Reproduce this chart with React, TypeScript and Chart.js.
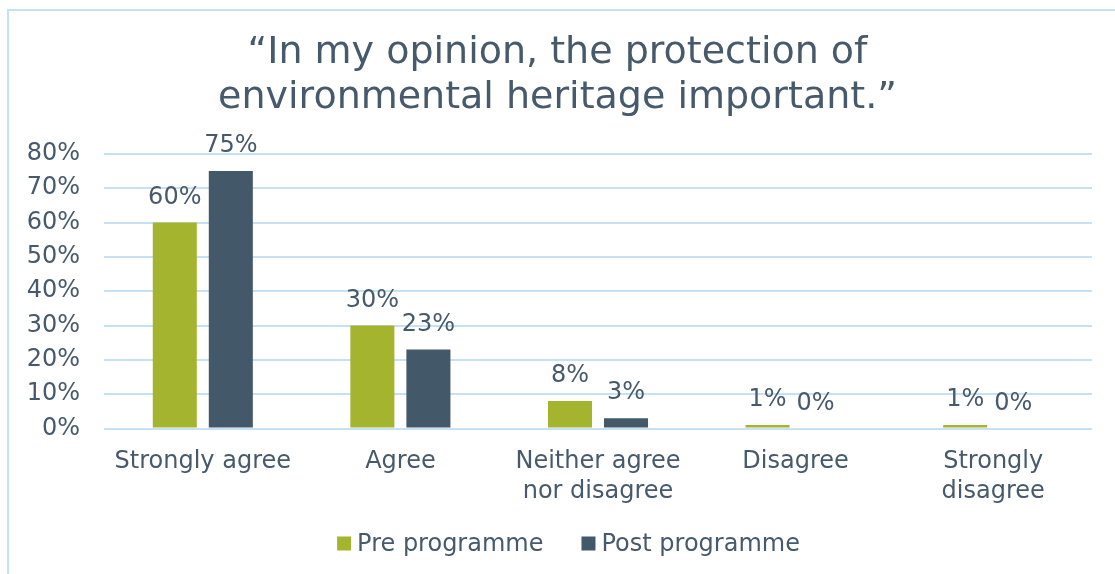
import React, { useEffect, useRef } from "react";
import { Chart, registerables } from "chart.js";

Chart.register(...registerables);

const titleLines = ["\u201CIn my opinion, the protection of", "environmental heritage important.\u201D"];
const categories: (string | string[])[] = [
  "Strongly agree",
  "Agree",
  ["Neither agree", "nor disagree"],
  "Disagree",
  ["Strongly", "disagree"],
];
const preProgramme = [60, 30, 8, 1, 1];
const postProgramme = [75, 23, 3, 0, 0];
const seriesNames = ["Pre programme", "Post programme"];
const yTicks = [0, 10, 20, 30, 40, 50, 60, 70, 80];

const TEXT = "#465A6C";
const GREEN = "#A5B42E";
const DARK = "#435868";
const GRID = "#C6E0F4";
const FONT = "'DejaVu Sans', Verdana, sans-serif";
const FS = 24;

const valueLabels = {
  id: "valueLabels",
  afterDatasetsDraw(chart: any) {
    const ctx = chart.ctx;
    ctx.save();
    ctx.font = `${FS}px ${FONT}`;
    ctx.fillStyle = TEXT;
    ctx.textAlign = "center";
    ctx.textBaseline = "middle";
    chart.data.datasets.forEach((ds: any, di: number) => {
      const meta = chart.getDatasetMeta(di);
      meta.data.forEach((bar: any, i: number) => {
        const v = ds.data[i];
        const shift = v === 0 ? -8 : 0;
        ctx.fillText(`${v}%`, bar.x + shift, bar.y - 25);
      });
    });
    ctx.restore();
  },
};

const customLegend = {
  id: "customLegend",
  afterDraw(chart: any) {
    const ctx = chart.ctx;
    ctx.save();
    ctx.font = `${FS}px ${FONT}`;
    ctx.textBaseline = "middle";
    ctx.textAlign = "left";
    const box = 14;
    const gapText = 6;
    const gapItem = 38;
    const items = chart.data.datasets.map((ds: any) => ({
      label: ds.label,
      color: ds.backgroundColor,
      w: ctx.measureText(ds.label).width,
    }));
    let total = 0;
    items.forEach((it: any, i: number) => {
      total += box + gapText + it.w + (i > 0 ? gapItem : 0);
    });
    let x = chart.width / 2 + 11 - total / 2;
    const y = chart.chartArea.bottom + 115;
    items.forEach((it: any) => {
      ctx.fillStyle = it.color;
      ctx.fillRect(x, y - box / 2, box, box);
      ctx.fillStyle = TEXT;
      ctx.fillText(it.label, x + box + gapText, y + 1);
      x += box + gapText + it.w + gapItem;
    });
    ctx.restore();
  },
};

export default function App() {
  const ref = useRef<HTMLCanvasElement | null>(null);

  useEffect(() => {
    if (!ref.current) return;
    const chart = new Chart(ref.current, {
      type: "bar",
      data: {
        labels: categories,
        datasets: [
          {
            label: seriesNames[0],
            data: preProgramme,
            backgroundColor: GREEN,
            categoryPercentage: 0.567,
            barPercentage: 0.786,
          },
          {
            label: seriesNames[1],
            data: postProgramme,
            backgroundColor: DARK,
            categoryPercentage: 0.567,
            barPercentage: 0.786,
          },
        ],
      },
      options: {
        responsive: false,
        animation: false,
        devicePixelRatio: 1,
        layout: { padding: { left: 23, right: 23, top: 0, bottom: 50.5 } },
        plugins: {
          legend: { display: false },
          tooltip: { enabled: false },
          title: {
            display: true,
            text: titleLines,
            color: TEXT,
            font: { family: FONT, size: 38, weight: "normal", lineHeight: 1.17 },
            padding: { top: 31, bottom: 34 },
          },
        },
        scales: {
          x: {
            grid: { display: false, drawTicks: false },
            border: { display: false },
            ticks: {
              color: TEXT,
              font: { family: FONT, size: FS, lineHeight: 1.25 },
              padding: 18,
              maxRotation: 0,
              autoSkip: false,
            },
            afterFit: (s: any) => {
              s.height = 95;
            },
          },
          y: {
            min: 0,
            max: 80,
            afterBuildTicks: (s: any) => {
              s.ticks = yTicks.map((v) => ({ value: v }));
            },
            grid: { color: GRID, lineWidth: 2, drawTicks: false },
            border: { display: false },
            ticks: {
              color: TEXT,
              font: { family: FONT, size: FS },
              padding: 24,
              callback: (v: any) => `${v}%`,
            },
            afterFit: (s: any) => {
              s.width = 81;
            },
          },
        },
      },
      plugins: [valueLabels, customLegend],
    });
    return () => chart.destroy();
  }, []);

  return (
    <div style={{ position: "fixed", left: 0, top: 0, width: 1115, height: 574, overflow: "hidden", background: "#fff" }}>
      <div
        style={{
          position: "absolute",
          left: 7,
          top: 9,
          width: 1200,
          height: 700,
          border: `2px solid ${GRID}`,
          boxSizing: "border-box",
        }}
      />
      <canvas ref={ref} width={1115} height={574} style={{ position: "absolute", left: 0, top: 0 }} />
    </div>
  );
}
